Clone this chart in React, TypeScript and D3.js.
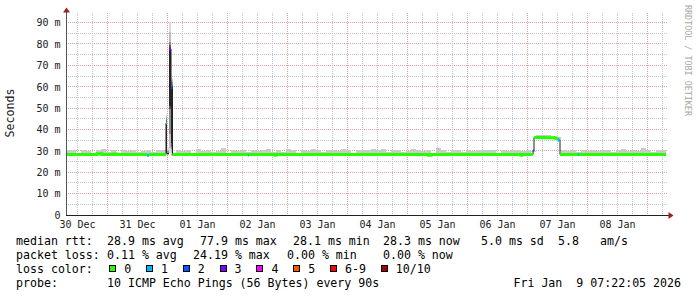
import React from "react";
import * as d3 from "d3";

// ---------- data ----------
const START = "2025-12-30T07:22";
const END = "2026-01-09T07:22";

const yTickValues = [0, 10, 20, 30, 40, 50, 60, 70, 80, 90];
const xLabelDates = [
  "2025-12-30T12:00", "2025-12-31T12:00", "2026-01-01T12:00", "2026-01-02T12:00", "2026-01-03T12:00",
  "2026-01-04T12:00", "2026-01-05T12:00", "2026-01-06T12:00", "2026-01-07T12:00", "2026-01-08T12:00",
];
const xLabelTexts = ["30 Dec", "31 Dec", "01 Jan", "02 Jan", "03 Jan", "04 Jan", "05 Jan", "06 Jan", "07 Jan", "08 Jan"];

// median rtt (ms) as step series: value holds from time until next time; null = unknown
const medianTimes = [
  "2025-12-30T07:22", "2025-12-30T19:46", "2025-12-30T21:46", "2025-12-31T02:34", "2025-12-31T03:46",
  "2025-12-31T15:46", "2025-12-31T16:34", "2025-12-31T23:22", "2025-12-31T23:46", "2026-01-01T00:34",
  "2026-01-01T01:22", "2026-01-01T01:58", "2026-01-02T08:10", "2026-01-02T08:34", "2026-01-02T18:58",
  "2026-01-02T19:22", "2026-01-05T08:22", "2026-01-05T09:22", "2026-01-06T21:22", "2026-01-06T21:46",
  "2026-01-07T02:10", "2026-01-07T02:34", "2026-01-07T06:58", "2026-01-07T10:58", "2026-01-07T12:10",
  "2026-01-07T12:58", "2026-01-07T20:10", "2026-01-07T20:34",
];
const medianValues: (number | null)[] = [
  28.3, 28.6, 28.3, 28.5, 28.3,
  27.9, 28.3, 43.0, null, 77.7,
  60.0, 28.3, 28.1, 28.3, 27.9,
  28.3, 27.9, 28.3, 28.0, 28.3,
  30.0, 36.3, 36.1, 35.9, 35.0,
  28.3, 28.3, 28.3,
];
const medianLoss = [
  0, 0, 0, 0, 0,
  1, 0, 1, 0, 3,
  2, 0, 1, 0, 0,
  0, 0, 0, 0, 0,
  2, 0, 0, 0, 1,
  0, 1, 0,
];

// smoke: highest ping per 2-hour bin (ms)
const smokeTop = [
  30.3, 30.6, 29.2, 30.5, 30.1, 29.0, 30.4, 30.7, 29.6, 30.2, 29.1, 30.5,
  30.1, 30.6, 29.3, 29.9, 30.5, 29.7, 30.3, 30.6, 30.2, 29.2, 30.4, 30.0,
  30.4, 29.2, 30.7, 30.0, 30.3, 29.5, 30.1, 31.3, 29.1, 30.5, 29.9, 30.6,
  29.3, 30.3, 30.0, 30.6, 30.9, 29.4, 30.5, 29.7, 30.7, 30.2, 29.2, 30.4,
  30.0, 30.8, 30.6, 29.3, 30.4, 30.6, 30.1, 30.7, 30.3, 29.1, 30.2, 30.5,
  30.6, 31.0, 30.4, 30.7, 29.4, 30.6, 30.3, 29.3, 30.1, 30.8, 30.2, 29.8,
  30.5, 29.2, 31.4, 30.2, 29.7, 30.6, 30.3, 29.5, 30.6, 30.0, 30.2, 30.4,
  30.2, 30.4, 29.2, 30.6, 29.9, 30.3, 30.5, 30.0, 30.4, 30.1, 37.4, 37.3,
  37.2, 37.0, 36.4, 30.4, 30.0, 30.5, 29.3, 30.6, 30.1, 30.3, 29.8, 30.5,
  30.2, 29.4, 30.6, 30.8, 30.1, 30.4, 30.0, 31.2, 30.3, 29.7, 30.6, 30.3,
];

// spike period: sorted pings (ms) per consolidated step
const spikeStarts = ["2025-12-31T23:22", "2025-12-31T23:46", "2026-01-01T00:34", "2026-01-01T01:22"];
const spikeEnds = ["2025-12-31T23:46", "2026-01-01T00:34", "2026-01-01T01:22", "2026-01-01T01:58"];
const spikePings = [
  [28.3, 28.4, 28.6, 29.0, 29.6, 43.0, 44.6, 45.4, 46.1, 46.8],
  [28.2, 28.3, 28.4, 28.5, 28.6, 28.8, 29.1, 29.8, 30.6, 31.8],
  [29.0, 31.5, 38.0, 49.5, 51.0, 77.5, 79.5, 81.0, 85.5, 90.5],
  [28.6, 29.2, 30.8, 32.0, 33.5, 59.0, 60.5, 62.0, 63.2, 64.2],
];

const lossLabels = ["0", "1", "2", "3", "4", "5", "6-9", "10/10"];
const lossColors = ["#26ff00", "#00b8ff", "#0059ff", "#7e00ff", "#ff00ff", "#ff5500", "#ff0000", "#a10000"];

const statsLine1 = ["median rtt:", "28.9 ms avg", "77.9 ms max", "28.1 ms min", "28.3 ms now", "5.0 ms sd", "5.8", "am/s"];
const statsLine2 = ["packet loss:", "0.11 % avg", "24.19 % max", "0.00 % min", "0.00 % now"];
const lossTitle = "loss color:";
const probeLine = ["probe:", "10 ICMP Echo Pings (56 Bytes) every 90s"];
const dateStamp = "Fri Jan  9 07:22:05 2026";
const yTitle = "Seconds";
const watermark = "RRDTOOL / TOBI OETIKER";

// ---------- layout ----------
const W = 697, H = 297;
const X0 = 66, X1 = 666, Y0 = 215, YTOP = 13;
const MONO = "DejaVu Sans Mono";
const shades = ["#dcdcdc", "#bcbcbc", "#8c8c8c", "#555555", "#262626"];

const parse = d3.timeParse("%Y-%m-%dT%H:%M")!;

export default function App() {
  const tStart = parse(START)!;
  const tEnd = parse(END)!;
  const x = d3.scaleTime().domain([tStart, tEnd]).range([X0, X1]);
  const y = d3.scaleLinear().domain([0, 90]).range([Y0, 22.6]);

  const segs = medianTimes.map((s, i) => ({
    t0: parse(s)!,
    t1: i + 1 < medianTimes.length ? parse(medianTimes[i + 1])! : tEnd,
    v: medianValues[i],
    l: medianLoss[i],
  }));
  const medianAt = (t: Date) => {
    let v: number | null = null;
    for (const s of segs) if (s.t0 <= t) v = s.v;
    return v;
  };

  type P = { t: Date; v: number | null };
  const line = d3
    .line<P>()
    .defined((d) => d.v != null)
    .x((d) => x(d.t))
    .y((d) => y(d.v as number));

  const thinPts: P[] = [];
  segs.forEach((s) => {
    thinPts.push({ t: s.t0, v: s.v }, { t: s.t1, v: s.v });
  });

  const lossPaths = lossColors.map((c, ci) => {
    const pts: P[] = [];
    segs.forEach((s) => {
      if (s.l === ci && s.v != null) pts.push({ t: s.t0, v: s.v }, { t: s.t1, v: s.v });
      else pts.push({ t: s.t0, v: null });
    });
    return line(pts);
  });

  // grid
  const vGrid = d3.timeHour.every(6)!.range(tStart, tEnd).filter((t) => t > tStart);
  const hGrid = d3.range(5, 95, 5).filter((v) => y(v) >= YTOP);

  const crisp = (v: number) => Math.floor(v) + 0.5;

  const binMs = 2 * 3600 * 1000;
  const smokeRects = smokeTop.map((top, i) => {
    const a = new Date(tStart.getTime() + i * binMs);
    const b = new Date(tStart.getTime() + (i + 1) * binMs);
    const mid = new Date(tStart.getTime() + (i + 0.5) * binMs);
    const m = medianAt(mid);
    if (m == null || top <= m - 0.5) return null;
    const lo = m - 0.5;
    return (
      <rect key={"s" + i} x={x(a)} width={x(b) - x(a)} y={y(top)} height={y(lo) - y(top)} fill="#cacaca" />
    );
  });

  const spikeRects: JSX.Element[] = [];
  spikePings.forEach((p, i) => {
    const a = x(parse(spikeStarts[i])!);
    const b = x(parse(spikeEnds[i])!);
    for (let k = 0; k < 5; k++) {
      spikeRects.push(
        <rect key={`p${i}-${k}`} x={a} width={b - a} y={y(p[9 - k])} height={y(p[k]) - y(p[9 - k])} fill={shades[k]} />
      );
    }
  });

  const fmtY = (v: number) => (v === 0 ? "0" : `${v} m`);

  const line1X = [16, 107, 200, 293, 383, 481, 558, 600];
  const line2X = [16, 107, 193, 287, 383];

  let bx = 109.2;
  const boxes = lossLabels.map((lab, i) => {
    const px = bx;
    bx += 29.8 + 7 * lab.length;
    return (
      <g key={"b" + i}>
        <rect x={Math.round(px) + 0.5} y={265.5} width={6} height={6} fill={lossColors[i]} stroke="#000" strokeWidth={1} />
        <text x={px + 15} y={273}>{lab}</text>
      </g>
    );
  });

  return (
    <svg width={W} height={H} style={{ position: "absolute", left: 0, top: 0, background: "#fff" }} fontFamily={MONO}>
      <rect x={0} y={0} width={W} height={H} fill="#fff" />
      {/* grid */}
      <g>
        {hGrid.map((v) => (
          <line key={"h" + v} x1={X0} x2={X1 + 2} y1={crisp(y(v))} y2={crisp(y(v))}
            stroke={v % 10 === 0 ? "#e0a0a0" : "#c4c4c4"} strokeDasharray="1,1" strokeWidth={1} />
        ))}
        {vGrid.map((t) => (
          <line key={"v" + t.getTime()} x1={crisp(x(t))} x2={crisp(x(t))} y1={YTOP} y2={Y0}
            stroke={t.getHours() === 0 ? "#e0a0a0" : "#c4c4c4"} strokeDasharray="1,1" strokeWidth={1} />
        ))}
      </g>
      {/* smoke */}
      <g shapeRendering="crispEdges">{smokeRects}{spikeRects}</g>
      {/* median */}
      <path d={line(thinPts) || ""} fill="none" stroke="#202020" strokeWidth={1} />
      {lossPaths.map((d, i) => (
        <path key={"l" + i} d={d || ""} fill="none" stroke={lossColors[i]} strokeWidth={3} strokeLinecap="butt" />
      ))}
      {/* axes */}
      <line x1={66.5} x2={66.5} y1={12} y2={Y0} stroke="#555" strokeWidth={1} />
      <line x1={X0} x2={669} y1={215.5} y2={215.5} stroke="#202020" strokeWidth={1} />
      <path d="M63,12.5 L70,12.5 L66.5,7.5 Z" fill="#a02020" />
      <path d="M668.5,212 L668.5,219 L673.5,215.5 Z" fill="#a02020" />
      {/* y tick labels */}
      <g fontSize={10} fill="#202020" textAnchor="end">
        {yTickValues.map((v) => (
          <text key={"yt" + v} x={60.6} y={y(v) + 3.8}>{fmtY(v)}</text>
        ))}
      </g>
      {/* x labels */}
      <g fontSize={10} fill="#202020" textAnchor="middle">
        {xLabelDates.map((d, i) => (
          <text key={"xl" + i} x={x(parse(d)!)} y={228}>{xLabelTexts[i]}</text>
        ))}
      </g>
      {/* titles */}
      <text transform="translate(14,113) rotate(-90)" fontSize={11.6} textAnchor="middle" fill="#202020">{yTitle}</text>
      <text transform="translate(685,5) rotate(90)" fontSize={8.4} fill="#a8a8a8">{watermark}</text>
      {/* legend */}
      <g fontSize={11.6} fill="#000" style={{ whiteSpace: "pre" }}>
        {statsLine1.map((s, i) => (
          <text key={"a" + i} x={line1X[i]} y={245} xmlSpace="preserve">{s}</text>
        ))}
        {statsLine2.map((s, i) => (
          <text key={"b" + i} x={line2X[i]} y={259} xmlSpace="preserve">{s}</text>
        ))}
        <text x={16} y={273}>{lossTitle}</text>
        {boxes}
        <text x={16} y={287}>{probeLine[0]}</text>
        <text x={107} y={287}>{probeLine[1]}</text>
        <text x={681} y={287} textAnchor="end" xmlSpace="preserve">{dateStamp}</text>
      </g>
    </svg>
  );
}
